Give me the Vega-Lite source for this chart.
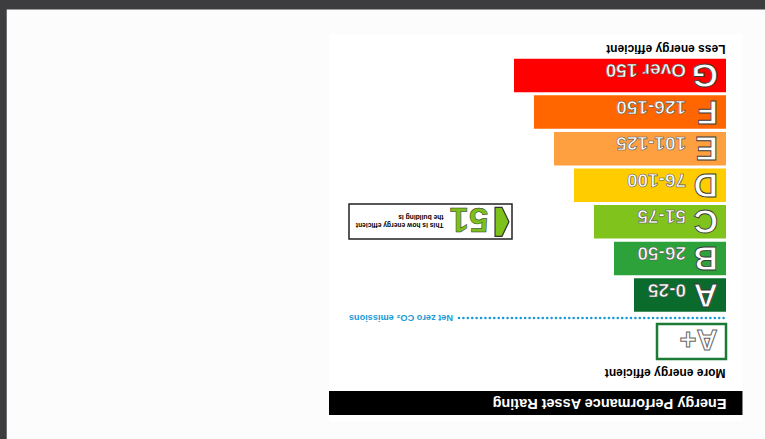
{
  "$schema": "https://vega.github.io/schema/vega-lite/v6.json",
  "width": 765,
  "height": 439,
  "autosize": "none",
  "padding": 0,
  "background": "#fcfcfc",
  "config": {"view": {"stroke": null}, "font": "Liberation Sans", "text": {"font": "Liberation Sans"}, "scale": {"continuousPadding": 0}},
  "datasets": {
    "bands": [
      {"grade": "A", "range": "0-25", "upper": 25, "rank": 1},
      {"grade": "B", "range": "26-50", "upper": 50, "rank": 2},
      {"grade": "C", "range": "51-75", "upper": 75, "rank": 3},
      {"grade": "D", "range": "76-100", "upper": 100, "rank": 4},
      {"grade": "E", "range": "101-125", "upper": 125, "rank": 5},
      {"grade": "F", "range": "126-150", "upper": 150, "rank": 6},
      {"grade": "G", "range": "Over 150", "upper": 175, "rank": 7}
    ],
    "current": [{"score": 51, "grade": "C", "rank": 3, "line1": "This is how energy efficient", "line2": "the building is"}],
    "labels": [{"title": "Energy Performance Asset Rating", "less": "Less energy efficient", "more": "More energy efficient", "netzero": "Net zero CO₂ emissions", "aplus": "A+"}]
  },
  "layer": [
    {
      "data": {"name": "labels"},
      "mark": {"type": "rect", "fill": "#3d3d40"},
      "encoding": {
        "x": {"datum": -138.75, "type": "quantitative", "scale": {"domain": [-138.75, 817.5], "reverse": true, "nice": false, "zero": false, "padding": 0}, "axis": null},
        "x2": {"datum": 817.5},
        "y": {"datum": 9.0638, "type": "quantitative", "scale": {"domain": [-2.9362, 9.0638], "nice": false, "zero": false, "padding": 0}, "axis": null},
        "y2": {"datum": 8.804}
      }
    },
    {
      "data": {"name": "labels"},
      "mark": {"type": "rect", "fill": "#3d3d40"},
      "encoding": {
        "x": {"datum": 817.5, "type": "quantitative", "scale": {"domain": [-138.75, 817.5], "reverse": true, "nice": false, "zero": false, "padding": 0}, "axis": null},
        "x2": {"datum": 809.1},
        "y": {"datum": 9.0638, "type": "quantitative", "scale": {"domain": [-2.9362, 9.0638], "nice": false, "zero": false, "padding": 0}, "axis": null},
        "y2": {"datum": -2.9362}
      }
    },
    {
      "data": {"name": "labels"},
      "mark": {"type": "rect", "fill": "#ffffff"},
      "encoding": {
        "x": {"datum": 406.25, "type": "quantitative", "scale": {"domain": [-138.75, 817.5], "reverse": true, "nice": false, "zero": false, "padding": 0}, "axis": null},
        "x2": {"datum": -110.6},
        "y": {"datum": 8.1344, "type": "quantitative", "scale": {"domain": [-2.9362, 9.0638], "nice": false, "zero": false, "padding": 0}, "axis": null},
        "y2": {"datum": -2.444}
      }
    },
    {
      "data": {"name": "labels"},
      "mark": {"type": "rect", "fill": "#000000"},
      "encoding": {
        "x": {"datum": 406.25, "type": "quantitative", "scale": {"domain": [-138.75, 817.5], "reverse": true, "nice": false, "zero": false, "padding": 0}, "axis": null},
        "x2": {"datum": -110.6},
        "y": {"datum": -1.6237, "type": "quantitative", "scale": {"domain": [-2.9362, 9.0638], "nice": false, "zero": false, "padding": 0}, "axis": null},
        "y2": {"datum": -2.2798}
      }
    },
    {
      "data": {"name": "labels"},
      "mark": {"type": "text", "angle": 180, "align": "left", "baseline": "alphabetic", "fontSize": 14.5, "fontWeight": "bold", "fill": "#ffffff"},
      "encoding": {
        "x": {"datum": -90.6, "type": "quantitative", "scale": {"domain": [-138.75, 817.5], "reverse": true, "nice": false, "zero": false, "padding": 0}, "axis": null},
        "y": {"datum": -1.8428, "type": "quantitative", "scale": {"domain": [-2.9362, 9.0638], "nice": false, "zero": false, "padding": 0}, "axis": null},
        "text": {"field": "title", "type": "nominal"}
      }
    },
    {
      "data": {"name": "labels"},
      "mark": {"type": "text", "angle": 180, "align": "left", "baseline": "alphabetic", "fontSize": 12, "fontWeight": "bold", "fill": "#000000"},
      "encoding": {
        "x": {"datum": -89.4, "type": "quantitative", "scale": {"domain": [-138.75, 817.5], "reverse": true, "nice": false, "zero": false, "padding": 0}, "axis": null},
        "y": {"datum": 7.8337, "type": "quantitative", "scale": {"domain": [-2.9362, 9.0638], "nice": false, "zero": false, "padding": 0}, "axis": null},
        "text": {"field": "less", "type": "nominal"}
      }
    },
    {
      "data": {"name": "labels"},
      "mark": {"type": "text", "angle": 180, "align": "left", "baseline": "alphabetic", "fontSize": 12, "fontWeight": "bold", "fill": "#000000"},
      "encoding": {
        "x": {"datum": -89.4, "type": "quantitative", "scale": {"domain": [-138.75, 817.5], "reverse": true, "nice": false, "zero": false, "padding": 0}, "axis": null},
        "y": {"datum": -1.0364, "type": "quantitative", "scale": {"domain": [-2.9362, 9.0638], "nice": false, "zero": false, "padding": 0}, "axis": null},
        "text": {"field": "more", "type": "nominal"}
      }
    },
    {
      "data": {"name": "bands"},
      "mark": {"type": "bar", "orient": "horizontal", "size": 33.5},
      "encoding": {
        "x": {"field": "upper", "type": "quantitative", "scale": {"domain": [-138.75, 817.5], "reverse": true, "nice": false, "zero": false, "padding": 0}, "axis": null},
        "x2": {"datum": -90},
        "y": {"field": "rank", "type": "quantitative", "scale": {"domain": [-2.9362, 9.0638], "nice": false, "zero": false, "padding": 0}, "axis": null},
        "color": {"field": "grade", "type": "nominal", "scale": {"domain": ["A", "B", "C", "D", "E", "F", "G"], "range": ["#0a6b2c", "#2ea23a", "#80c31c", "#ffcc00", "#ffa040", "#ff6600", "#fe0000"]}, "legend": null}
      }
    },
    {
      "data": {"name": "bands"},
      "mark": {"type": "text", "angle": 180, "align": "left", "baseline": "alphabetic", "dy": 11.5, "fontSize": 34, "fontWeight": "bold", "fill": "#ffffff", "stroke": "#3a3a3a", "strokeWidth": 0.9},
      "encoding": {
        "x": {"datum": -80, "type": "quantitative", "scale": {"domain": [-138.75, 817.5], "reverse": true, "nice": false, "zero": false, "padding": 0}, "axis": null},
        "y": {"field": "rank", "type": "quantitative", "scale": {"domain": [-2.9362, 9.0638], "nice": false, "zero": false, "padding": 0}, "axis": null},
        "text": {"field": "grade", "type": "nominal"}
      }
    },
    {
      "data": {"name": "bands"},
      "mark": {"type": "text", "angle": 180, "align": "left", "baseline": "alphabetic", "dy": 11.5, "fontSize": 19, "fontWeight": "bold", "fill": "#ffffff", "stroke": "#555555", "strokeWidth": 0.6},
      "encoding": {
        "x": {"datum": -40, "type": "quantitative", "scale": {"domain": [-138.75, 817.5], "reverse": true, "nice": false, "zero": false, "padding": 0}, "axis": null},
        "y": {"field": "rank", "type": "quantitative", "scale": {"domain": [-2.9362, 9.0638], "nice": false, "zero": false, "padding": 0}, "axis": null},
        "text": {"field": "range", "type": "nominal"}
      }
    },
    {
      "data": {"name": "labels"},
      "mark": {"type": "rule", "color": "#1a9ad6", "strokeWidth": 2.6, "strokeCap": "round", "strokeDash": [0.01, 4.4]},
      "encoding": {
        "x": {"datum": 243.75, "type": "quantitative", "scale": {"domain": [-138.75, 817.5], "reverse": true, "nice": false, "zero": false, "padding": 0}, "axis": null},
        "x2": {"datum": -90},
        "y": {"datum": 0.3713, "type": "quantitative", "scale": {"domain": [-2.9362, 9.0638], "nice": false, "zero": false, "padding": 0}, "axis": null}
      }
    },
    {
      "data": {"name": "labels"},
      "mark": {"type": "text", "angle": 180, "align": "left", "baseline": "middle", "fontSize": 9.2, "fontWeight": "bold", "fill": "#1a9ad6"},
      "encoding": {
        "x": {"datum": 251.25, "type": "quantitative", "scale": {"domain": [-138.75, 817.5], "reverse": true, "nice": false, "zero": false, "padding": 0}, "axis": null},
        "y": {"datum": 0.3713, "type": "quantitative", "scale": {"domain": [-2.9362, 9.0638], "nice": false, "zero": false, "padding": 0}, "axis": null},
        "text": {"field": "netzero", "type": "nominal"}
      }
    },
    {
      "data": {"name": "labels"},
      "mark": {"type": "rect", "fill": "#ffffff", "stroke": "#1b7a34", "strokeWidth": 2.5},
      "encoding": {
        "x": {"datum": -90, "type": "quantitative", "scale": {"domain": [-138.75, 817.5], "reverse": true, "nice": false, "zero": false, "padding": 0}, "axis": null},
        "x2": {"datum": -3.75},
        "y": {"datum": 0.2073, "type": "quantitative", "scale": {"domain": [-2.9362, 9.0638], "nice": false, "zero": false, "padding": 0}, "axis": null},
        "y2": {"datum": -0.7494}
      }
    },
    {
      "data": {"name": "labels"},
      "mark": {"type": "text", "angle": 180, "align": "left", "baseline": "alphabetic", "fontSize": 29, "fontWeight": "bold", "fill": "#ffffff", "stroke": "#666666", "strokeWidth": 1},
      "encoding": {
        "x": {"datum": -79.4, "type": "quantitative", "scale": {"domain": [-138.75, 817.5], "reverse": true, "nice": false, "zero": false, "padding": 0}, "axis": null},
        "y": {"datum": 0.0433, "type": "quantitative", "scale": {"domain": [-2.9362, 9.0638], "nice": false, "zero": false, "padding": 0}, "axis": null},
        "text": {"field": "aplus", "type": "nominal"}
      }
    },
    {
      "data": {"name": "current"},
      "mark": {"type": "rect", "fill": "#ffffff", "stroke": "#222222", "strokeWidth": 1.5},
      "encoding": {
        "x": {"datum": 381.25, "type": "quantitative", "scale": {"domain": [-138.75, 817.5], "reverse": true, "nice": false, "zero": false, "padding": 0}, "axis": null},
        "x2": {"datum": 177.5},
        "y": {"datum": 3.4875, "type": "quantitative", "scale": {"domain": [-2.9362, 9.0638], "nice": false, "zero": false, "padding": 0}, "axis": null},
        "y2": {"datum": 2.5308}
      }
    },
    {
      "data": {"name": "current"},
      "mark": {"type": "point", "shape": "M-0.48,-1L0,-1L0.48,0L0,1L-0.48,1Z", "size": 841, "filled": true, "fill": "#7dc11b", "stroke": "#333333", "strokeWidth": 1.2, "opacity": 1},
      "encoding": {
        "x": {"datum": 190, "type": "quantitative", "scale": {"domain": [-138.75, 817.5], "reverse": true, "nice": false, "zero": false, "padding": 0}, "axis": null},
        "y": {"field": "rank", "type": "quantitative", "scale": {"domain": [-2.9362, 9.0638], "nice": false, "zero": false, "padding": 0}, "axis": null}
      }
    },
    {
      "data": {"name": "current"},
      "mark": {"type": "text", "angle": 180, "align": "left", "baseline": "alphabetic", "fontSize": 35, "fontWeight": "bold", "fill": "#7cc01d", "stroke": "#2a2a2a", "strokeWidth": 0.5},
      "encoding": {
        "x": {"datum": 206.9, "type": "quantitative", "scale": {"domain": [-138.75, 817.5], "reverse": true, "nice": false, "zero": false, "padding": 0}, "axis": null},
        "y": {"datum": 3.3782, "type": "quantitative", "scale": {"domain": [-2.9362, 9.0638], "nice": false, "zero": false, "padding": 0}, "axis": null},
        "text": {"field": "score", "type": "quantitative"}
      }
    },
    {
      "data": {"name": "current"},
      "mark": {"type": "text", "angle": 180, "align": "left", "baseline": "alphabetic", "fontSize": 6.7, "fontWeight": "bold", "fill": "#000000"},
      "encoding": {
        "x": {"datum": 263.1, "type": "quantitative", "scale": {"domain": [-138.75, 817.5], "reverse": true, "nice": false, "zero": false, "padding": 0}, "axis": null},
        "y": {"datum": 2.9545, "type": "quantitative", "scale": {"domain": [-2.9362, 9.0638], "nice": false, "zero": false, "padding": 0}, "axis": null},
        "text": {"field": "line1", "type": "nominal"}
      }
    },
    {
      "data": {"name": "current"},
      "mark": {"type": "text", "angle": 180, "align": "left", "baseline": "alphabetic", "fontSize": 6.7, "fontWeight": "bold", "fill": "#000000"},
      "encoding": {
        "x": {"datum": 263.1, "type": "quantitative", "scale": {"domain": [-138.75, 817.5], "reverse": true, "nice": false, "zero": false, "padding": 0}, "axis": null},
        "y": {"datum": 3.187, "type": "quantitative", "scale": {"domain": [-2.9362, 9.0638], "nice": false, "zero": false, "padding": 0}, "axis": null},
        "text": {"field": "line2", "type": "nominal"}
      }
    }
  ]
}
